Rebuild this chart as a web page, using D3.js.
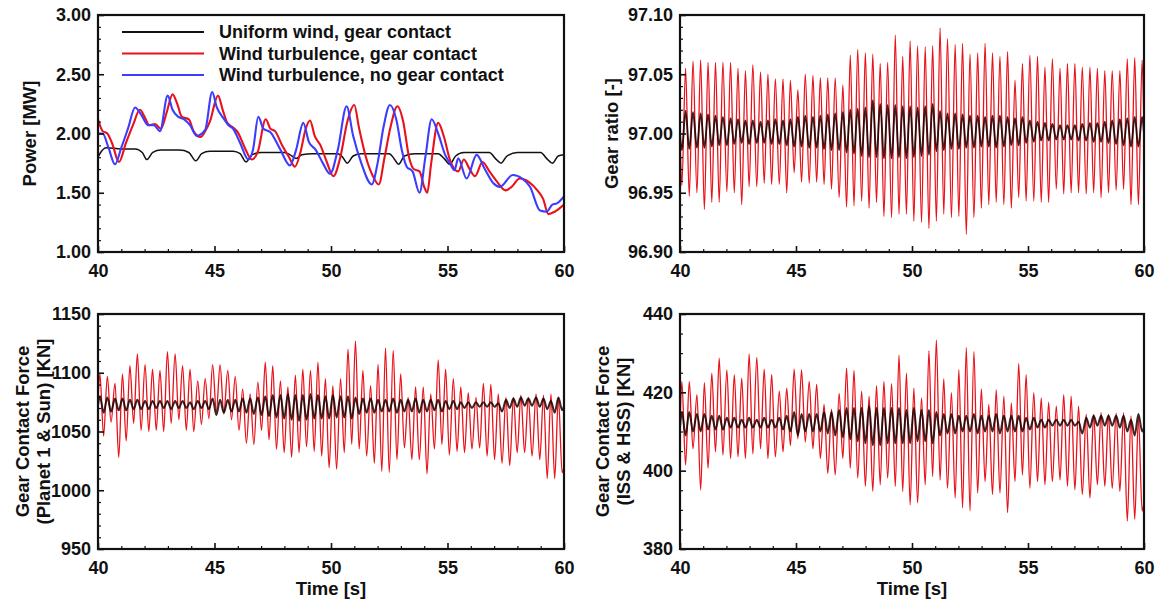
<!DOCTYPE html>
<html><head><meta charset="utf-8">
<script src="https://cdn.jsdelivr.net/npm/d3@7"></script>
<style>
html,body{margin:0;padding:0;background:#fff;}
text{font-family:"Liberation Sans",Arial,sans-serif;font-weight:bold;fill:#111;}
</style></head>
<body><svg id="c" width="1166" height="605"></svg>
<script>
// ---------- DATA ----------
// Top-left: power [MW]
const powerBlackT = [40.0,40.15,40.35,41.0,41.6,41.9,42.1,42.35,42.7,43.5,43.9,44.2,44.45,44.8,45.8,46.1,46.35,46.6,47.0,48.0,48.25,48.5,48.75,49.2,50.3,50.5,50.7,50.95,51.3,52.5,52.7,52.9,53.15,53.6,54.6,54.85,55.1,55.35,55.7,56.8,57.05,57.3,57.55,58.0,59.0,59.25,59.5,59.75,60.0];
const powerBlackV = [1.80,1.85,1.88,1.87,1.87,1.84,1.78,1.84,1.86,1.86,1.84,1.77,1.83,1.85,1.85,1.83,1.76,1.82,1.84,1.84,1.82,1.79,1.82,1.83,1.83,1.80,1.75,1.81,1.83,1.83,1.79,1.74,1.81,1.83,1.83,1.79,1.74,1.81,1.84,1.84,1.79,1.75,1.81,1.84,1.84,1.79,1.75,1.81,1.82];
const powerRedT = [40.0,40.2,40.4,40.6,40.9,41.2,41.5,41.8,42.0,42.2,42.45,42.7,42.95,43.2,43.4,43.6,43.9,44.1,44.4,44.6,44.8,45.15,45.35,45.55,45.8,46.0,46.3,46.6,46.85,47.2,47.4,47.6,47.9,48.2,48.45,48.7,48.9,49.1,49.3,49.55,49.8,50.1,50.4,50.7,51.0,51.2,51.5,51.8,52.05,52.3,52.55,52.85,53.1,53.35,53.55,53.8,54.0,54.13,54.3,54.6,54.85,55.1,55.3,55.46,55.7,55.95,56.18,56.5,56.8,57.1,57.5,57.75,58.1,58.5,58.9,59.1,59.33,59.6,60.0];
const powerRedV = [2.12,2.02,2.00,1.92,1.76,1.92,2.07,2.20,2.14,2.07,2.08,2.04,2.18,2.33,2.25,2.14,2.12,2.02,1.97,2.02,2.10,2.32,2.20,2.09,2.05,2.01,1.88,1.78,1.84,2.12,2.04,2.02,1.90,1.80,1.72,1.85,2.03,2.11,1.98,1.90,1.77,1.64,1.80,2.10,2.24,2.05,1.80,1.64,1.57,1.80,2.05,2.23,2.10,1.80,1.70,1.68,1.55,1.50,1.75,2.09,1.97,1.78,1.70,1.68,1.78,1.70,1.64,1.76,1.68,1.60,1.52,1.55,1.62,1.59,1.51,1.45,1.32,1.34,1.40];
const powerBlueT = [40.0,40.2,40.45,40.73,41.0,41.3,41.59,41.85,42.16,42.4,42.66,42.99,43.2,43.45,43.7,43.95,44.24,44.6,44.9,45.1,45.38,45.6,45.8,46.1,46.45,46.65,46.88,47.1,47.4,47.81,48.24,48.5,48.81,49.05,49.35,49.65,49.96,50.3,50.67,50.95,51.3,51.75,52.0,52.25,52.53,52.8,53.05,53.25,53.5,53.8,54.05,54.32,54.6,54.9,55.1,55.3,55.46,55.82,56.25,56.6,56.97,57.25,57.8,58.2,58.54,58.97,59.26,59.5,59.69,60.0];
const powerBlueV = [2.00,2.00,1.88,1.74,1.88,2.05,2.22,2.16,2.07,2.07,2.02,2.32,2.20,2.14,2.12,2.07,1.98,2.03,2.35,2.22,2.13,2.07,2.04,1.92,1.78,1.86,2.14,2.04,2.01,1.87,1.73,1.86,2.09,1.93,1.86,1.75,1.66,1.87,2.23,1.98,1.75,1.57,1.75,2.05,2.24,2.12,1.85,1.72,1.68,1.50,1.80,2.12,2.00,1.82,1.75,1.69,1.79,1.62,1.82,1.70,1.58,1.55,1.65,1.62,1.55,1.35,1.34,1.40,1.41,1.47];

// Shared sampling times of the oscillation extremes (other three panels)
const oscT = [40.00,40.08,40.24,40.40,40.56,40.73,40.89,41.05,41.21,41.37,41.53,41.69,41.85,42.02,42.18,42.34,42.50,42.66,42.82,42.98,43.14,43.31,43.47,43.63,43.79,43.95,44.11,44.28,44.44,44.60,44.76,44.92,45.08,45.24,45.40,45.57,45.73,45.89,46.05,46.21,46.37,46.53,46.69,46.86,47.02,47.18,47.34,47.50,47.66,47.83,47.99,48.15,48.31,48.47,48.63,48.79,48.95,49.12,49.28,49.44,49.60,49.76,49.92,50.08,50.24,50.41,50.57,50.73,50.89,51.05,51.21,51.37,51.53,51.70,51.86,52.02,52.18,52.34,52.50,52.67,52.83,52.99,53.15,53.31,53.47,53.63,53.79,53.96,54.12,54.28,54.44,54.60,54.76,54.92,55.08,55.25,55.41,55.57,55.73,55.89,56.05,56.22,56.38,56.54,56.70,56.86,57.02,57.18,57.34,57.51,57.67,57.83,57.99,58.15,58.31,58.47,58.63,58.80,58.96,59.12,59.28,59.44,59.60,59.76,59.92,60.00];

// Top-right: gear ratio [-]
const gearRed = [97.000,
96.956,97.055,96.947,97.061,96.950,97.062,96.936,97.060,96.942,97.060,96.942,97.060,96.951,97.060,96.950,97.055,96.940,97.053,96.955,97.058,
96.955,97.052,96.958,97.050,96.957,97.046,96.957,97.046,96.950,97.045,96.967,97.037,96.959,97.050,96.958,97.049,96.959,97.047,96.957,97.047,
96.953,97.047,96.946,97.041,96.938,97.066,96.939,97.071,96.943,97.068,96.937,97.067,96.942,97.059,96.930,97.060,96.929,97.083,96.932,97.065,
96.932,97.078,96.926,97.074,96.925,97.073,96.920,97.074,96.926,97.089,96.932,97.080,96.929,97.075,96.930,97.076,96.915,97.067,96.929,97.068,
96.937,97.076,96.940,97.068,96.942,97.065,96.940,97.069,96.937,97.045,96.946,97.059,96.943,97.066,96.943,97.065,96.942,97.056,96.942,97.063,
96.953,97.055,96.949,97.059,96.950,97.059,96.950,97.056,96.949,97.056,96.950,97.055,96.946,97.053,96.950,97.053,96.952,97.053,96.953,97.063,
96.940,97.064,96.940,97.062,
97.000];
const gearBlack = [97.000,
96.986,97.019,96.987,97.018,96.988,97.017,96.988,97.016,96.989,97.015,96.990,97.014,96.990,97.013,96.991,97.012,96.992,97.011,96.991,97.011,
96.992,97.010,96.992,97.011,96.991,97.012,96.991,97.011,96.990,97.012,96.989,97.014,96.989,97.015,96.988,97.014,96.988,97.015,96.987,97.016,
96.986,97.017,96.986,97.018,96.984,97.020,96.983,97.021,96.981,97.022,96.980,97.028,96.980,97.025,96.979,97.024,96.979,97.024,96.980,97.023,
96.979,97.023,96.980,97.022,96.981,97.023,96.982,97.025,96.985,97.019,96.986,97.017,96.987,97.017,96.987,97.016,96.988,97.015,96.988,97.015,
96.989,97.014,96.989,97.015,96.988,97.015,96.989,97.014,96.990,97.013,96.990,97.014,96.992,97.011,96.993,97.010,96.994,97.009,96.994,97.008,
96.995,97.007,96.995,97.007,96.995,97.007,96.994,97.008,96.994,97.009,96.993,97.009,96.993,97.010,96.992,97.011,96.991,97.012,96.990,97.013,
96.989,97.014,96.989,97.014,
97.000];

// Bottom-left: gear contact force, planet 1 & sun [KN]
const planetRed = [1075,
1099,1046,1097,1058,1091,1028,1099,1042,1106,1057,1116,1051,1107,1050,1103,1051,1102,1050,1118,1057,
1116,1060,1106,1051,1103,1050,1093,1056,1095,1061,1107,1067,1107,1065,1102,1060,1097,1051,1086,1040,
1082,1039,1092,1051,1109,1043,1106,1035,1093,1032,1088,1028,1098,1032,1103,1037,1102,1033,1109,1029,
1095,1019,1089,1018,1095,1032,1120,1039,1127,1035,1102,1029,1089,1023,1107,1016,1121,1015,1119,1026,
1099,1036,1079,1026,1088,1026,1088,1014,1082,1035,1111,1039,1103,1030,1095,1033,1088,1032,1083,1035,
1079,1036,1091,1029,1090,1026,1082,1023,1079,1021,1079,1032,1081,1032,1079,1029,1082,1026,1081,1010,
1082,1010,1079,1015,
1020];
const planetBlack = [1072,
1080,1066,1079,1067,1078,1068,1078,1068,1077,1069,1077,1069,1076,1069,1076,1070,1076,1070,1076,1069,
1076,1070,1076,1070,1075,1069,1076,1070,1076,1069,1078,1064,1077,1066,1077,1067,1077,1067,1078,1066,
1078,1065,1079,1064,1080,1063,1081,1062,1081,1061,1082,1060,1081,1059,1081,1060,1082,1061,1081,1061,
1080,1061,1081,1062,1080,1062,1080,1061,1079,1065,1078,1066,1078,1066,1077,1067,1077,1067,1078,1066,
1077,1067,1077,1067,1078,1066,1077,1067,1077,1068,1077,1067,1076,1069,1076,1069,1075,1070,1075,1070,
1075,1071,1075,1071,1075,1071,1074,1067,1077,1070,1078,1071,1079,1072,1078,1072,1079,1071,1078,1069,
1076,1066,1079,1068,
1072];

// Bottom-right: gear contact force, ISS & HSS [KN]
const issRed = [411,
422.8,401.4,422.8,405.6,419.4,395.1,422.5,400.6,424.9,404.8,428.7,404.0,425.7,403.1,424.5,403.5,423.6,403.1,429.8,404.3,
428.9,405.6,425.9,403.1,424.6,403.5,420.3,404.8,421.1,406.4,425.9,408.1,425.7,407.3,422.8,405.6,422.0,403.1,416.9,399.3,
415.7,398.9,419.7,403.1,426.2,400.6,425.6,398.1,420.3,396.0,419.0,394.7,421.7,396.4,422.8,398.1,422.2,396.0,429.5,394.7,
424.9,391.3,421.1,391.8,418.6,396.4,430.6,398.5,433.3,397.6,423.4,395.5,419.9,393.0,425.7,390.5,431.4,389.7,430.4,394.3,
420.9,397.2,416.9,393.9,420.7,394.3,419.0,389.3,417.3,397.2,427.4,398.9,424.5,395.5,419.9,397.2,418.6,396.4,417.5,397.2,
416.5,397.6,419.4,396.0,419.0,395.1,416.5,393.9,414.4,393.0,414.4,396.4,414.8,396.0,414.4,395.5,414.7,394.7,414.8,387.1,
414.0,387.6,413.6,389.7,
392];
const issBlack = [411,
415,409,415,410,414.5,410,414.5,410.5,414,410.5,414,410.5,413.5,411,413.5,411,413,411,413.5,411,
413,411,413.5,411,413,411,413.5,410.5,414,410,415,409,414.5,410,414.5,410,414.5,410,415,409.5,
415,409,415.5,408.5,416,408,416,407.5,416,407,416.5,406.5,416,406.5,416,407,416,407,416,407,
415.5,407,416,407.5,415.5,407.5,415.5,407,415,409,414.5,409.5,414.5,409.5,414,410,414,410,414.5,409.5,
414,410,414,410,414.5,409.5,414,410,414,410,414,410,413.5,410.5,413.5,411,413,411,413,411.5,
413,411.5,413,411.5,413,411.5,412.5,409.5,413.5,411,414,411.5,414,411.5,414,411.5,414,411,414,410,
413,409,414.5,410,
411];

const xTicks = [40,45,50,55,60];
const powerTicks = [1.00,1.50,2.00,2.50,3.00];
const gearTicks = [96.90,96.95,97.00,97.05,97.10];
const planetTicks = [950,1000,1050,1100,1150];
const issTicks = [380,400,420,440];
const legendLabels = ["Uniform wind, gear contact","Wind turbulence, gear contact","Wind turbulence, no gear contact"];

// ---------- DRAWING ----------
const RED = "#e8121a", BLUE = "#3c3cff", BLACK = "#111";
const svg = d3.select("#c");
const TICK_FS = 18, TITLE_FS = 18.5;

const panels = [
  {id:"p1", x0:98, x1:564, y0:15, y1:252, dom:[1,3], ticks:powerTicks, fmt:d3.format(".2f"), minor:0.1,
   title:["Power [MW]"], tx:[29], xTitle:false,
   series:[
     {t:powerBlackT, v:powerBlackV, c:BLACK, w:1.5},
     {t:powerRedT, v:powerRedV, c:RED, w:2.1},
     {t:powerBlueT, v:powerBlueV, c:BLUE, w:2.1}], legend:true},
  {id:"p2", x0:680, x1:1144, y0:15, y1:252, dom:[96.9,97.1], ticks:gearTicks, fmt:d3.format(".2f"), minor:0.01,
   title:["Gear ratio [-]"], tx:[611], xTitle:false,
   series:[
     {t:oscT, v:gearRed, c:RED, w:1.3},
     {t:oscT, v:gearBlack, c:"#1a0000", w:1.9, o:0.85}]},
  {id:"p3", x0:98, x1:564, y0:314, y1:549, dom:[950,1150], ticks:planetTicks, fmt:d3.format("d"), minor:10,
   title:["Gear Contact Force","(Planet 1 & Sun) [KN]"], tx:[22,43], xTitle:true,
   series:[
     {t:oscT, v:planetRed, c:RED, w:1.3},
     {t:oscT, v:planetBlack, c:"#1a0000", w:2.0, o:0.85}]},
  {id:"p4", x0:680, x1:1144, y0:314, y1:549, dom:[380,440], ticks:issTicks, fmt:d3.format("d"), minor:5,
   title:["Gear Contact Force","(ISS & HSS) [KN]"], tx:[602,623], xTitle:true,
   series:[
     {t:oscT, v:issRed, c:RED, w:1.3},
     {t:oscT, v:issBlack, c:"#1a0000", w:2.0, o:0.85}]}
];

panels.forEach(p => {
  const x = d3.scaleLinear().domain([40,60]).range([p.x0,p.x1]);
  const y = d3.scaleLinear().domain(p.dom).range([p.y1,p.y0]);
  const g = svg.append("g");
  g.append("clipPath").attr("id","clip"+p.id).append("rect")
    .attr("x",p.x0).attr("y",p.y0).attr("width",p.x1-p.x0).attr("height",p.y1-p.y0);

  const plot = g.append("g").attr("clip-path","url(#clip"+p.id+")");
  p.series.forEach(s => {
    const n = Math.min(s.t.length, s.v.length);
    const pts = d3.range(n).map(i => [s.t[i], s.v[i]]);
    const line = d3.line().x(d=>x(d[0])).y(d=>y(d[1])).curve(d3.curveMonotoneX);
    plot.append("path").attr("d",line(pts)).attr("fill","none")
      .attr("stroke",s.c).attr("stroke-width",s.w).attr("stroke-opacity",s.o||1)
      .attr("stroke-linejoin","round");
  });

  // minor ticks
  const xMinor = d3.range(40,60.001,1).filter(v=>v%5!==0);
  g.append("g").attr("transform",`translate(0,${p.y1})`)
    .call(d3.axisBottom(x).tickValues(xMinor).tickSize(-3).tickFormat(""))
    .call(a=>a.select(".domain").remove())
    .call(a=>a.selectAll("line").attr("stroke","#111").attr("stroke-width",1.2));
  const yMinor = d3.range(p.dom[0], p.dom[1]+1e-9, p.minor)
    .filter(v => !p.ticks.some(t=>Math.abs(t-v)<p.minor*0.3));
  g.append("g").attr("transform",`translate(${p.x0},0)`)
    .call(d3.axisLeft(y).tickValues(yMinor).tickSize(-3).tickFormat(""))
    .call(a=>a.select(".domain").remove())
    .call(a=>a.selectAll("line").attr("stroke","#111").attr("stroke-width",1.2));

  // major axes
  g.append("g").attr("transform",`translate(0,${p.y1})`)
    .call(d3.axisBottom(x).tickValues(xTicks).tickSize(-6).tickPadding(12).tickFormat(d3.format("d")))
    .call(a=>a.select(".domain").remove())
    .call(a=>a.selectAll("line").attr("stroke","#111").attr("stroke-width",1.6))
    .call(a=>a.selectAll("text").attr("font-size",TICK_FS).attr("font-family","Liberation Sans, Arial, sans-serif").attr("font-weight","bold").attr("fill","#111"));
  g.append("g").attr("transform",`translate(${p.x0},0)`)
    .call(d3.axisLeft(y).tickValues(p.ticks).tickSize(-6).tickPadding(7).tickFormat(p.fmt))
    .call(a=>a.select(".domain").remove())
    .call(a=>a.selectAll("line").attr("stroke","#111").attr("stroke-width",1.6))
    .call(a=>a.selectAll("text").attr("font-size",TICK_FS).attr("font-family","Liberation Sans, Arial, sans-serif").attr("font-weight","bold").attr("fill","#111"));

  // frame
  g.append("rect").attr("x",p.x0).attr("y",p.y0).attr("width",p.x1-p.x0).attr("height",p.y1-p.y0)
    .attr("fill","none").attr("stroke","#111").attr("stroke-width",2.2);

  // y titles
  const cy = (p.y0+p.y1)/2;
  p.title.forEach((tt,i)=>{
    g.append("text").attr("transform",`translate(${p.tx[i]},${cy}) rotate(-90)`)
      .attr("text-anchor","middle").attr("dominant-baseline","central")
      .attr("font-size",TITLE_FS).text(tt);
  });
  if (p.xTitle) {
    g.append("text").attr("x",(p.x0+p.x1)/2).attr("y",595).attr("text-anchor","middle")
      .attr("font-size",TITLE_FS).text("Time [s]");
  }

  if (p.legend) {
    const cols = [BLACK, RED, BLUE];
    legendLabels.forEach((lab,i)=>{
      const ly = 32 + i*21.5;
      g.append("line").attr("x1",122).attr("x2",204).attr("y1",ly).attr("y2",ly)
        .attr("stroke",cols[i]).attr("stroke-width",2.2);
      g.append("text").attr("x",219).attr("y",ly).attr("dominant-baseline","central")
        .attr("font-size",18).text(lab);
    });
  }
});
</script></body></html>
